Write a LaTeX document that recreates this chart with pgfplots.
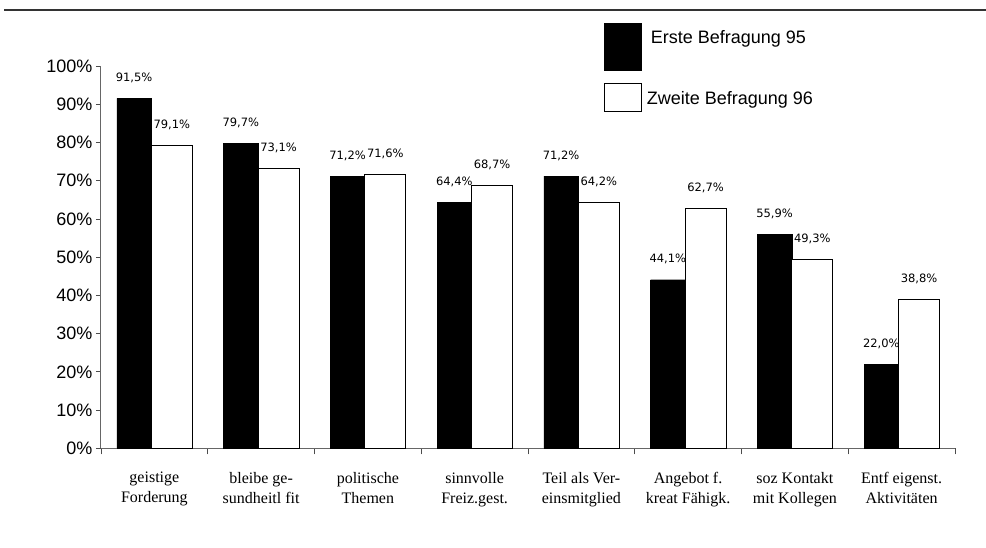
\documentclass[border=0pt]{standalone}
\usepackage{fontspec}
\usepackage{pgfplots}
\pgfplotsset{compat=1.18}
\setmainfont{Liberation Sans}
\newfontfamily\valfont{DejaVu Sans}
\newfontfamily\catfont{Liberation Serif}
% fixed line box for the two-line category names
\newcommand\ls{\rule[-5pt]{0pt}{14pt}}

\begin{document}
\begin{tikzpicture}
\useasboundingbox (0,0) rectangle (986pt,547pt);
% rule across the top
\draw[black!80, line width=1.5pt] (4pt,537pt) -- (986pt,537pt);

\begin{axis}[
  at={(101pt,98.7pt)}, anchor=south west,
  scale only axis, width=854pt, height=382.3pt,
  ybar, ymin=0, ymax=100, xmin=-0.5, xmax=7.5,
  axis lines*=left,
  axis line style={black!60, line width=1pt},
  /pgf/number format/assume math mode=true,
  ytick={0,10,...,100},
  yticklabel={\pgfmathprintnumber{\tick}\%},
  yticklabel style={font=\fontsize{18}{20}\selectfont},
  xtick={0,...,7},
  xticklabels={{\ls geistige\\\ls Forderung},{\ls bleibe ge-\\\ls sundheitl fit},{\ls politische\\\ls Themen},{\ls sinnvolle\\\ls Freiz.gest.},{\ls Teil als Ver-\\\ls einsmitglied},{\ls Angebot f.\\\ls kreat Fähigk.},{\ls soz Kontakt\\\ls mit Kollegen},{\ls Entf eigenst.\\\ls Aktivitäten}},
  xticklabel style={font=\catfont\fontsize{16}{20}\selectfont, align=center, yshift=-15.5pt},
  major x tick style={draw=none},
  minor xtick={-0.5,0.5,...,7.5},
  minor x tick style={black!70, line width=0.8pt},
  tick align=outside,
  major tick length=5pt, minor tick length=6pt,
  tick style={black!70, line width=0.8pt},
  nodes near coords={\pgfmathprintnumber[fixed,fixed zerofill,precision=1,use comma]{\pgfplotspointmeta}\%},
  every node near coord/.append style={font=\valfont\fontsize{11.5}{13}\selectfont, inner sep=0pt, yshift=15.5pt, black},
  clip=false,
]
% Erste Befragung 95
\addplot[fill=black, draw=black, bar width=34.5pt, bar shift=-20.3pt]
  coordinates {(0,91.5) (1,79.7) (2,71.2) (3,64.4) (4,71.2) (5,44.1) (6,55.9) (7,22.0)};
% Zweite Befragung 96
\addplot[fill=white, draw=black, line width=1pt, bar width=41pt, bar shift=17.5pt]
  coordinates {(0,79.1) (1,73.1) (2,71.6) (3,68.7) (4,64.2) (5,62.7) (6,49.3) (7,38.8)};
\end{axis}

% legend
\fill[black] (604pt,476.3pt) rectangle (641.7pt,523.7pt);
\draw[black, line width=1pt, fill=white] (604pt,435.3pt) rectangle (641.7pt,463pt);
\node[anchor=base west, inner sep=0pt, font=\fontsize{18}{20}\selectfont] at (650.7pt,503.7pt) {Erste Befragung 95};
\node[anchor=base west, inner sep=0pt, font=\fontsize{18}{20}\selectfont] at (646.7pt,442pt) {Zweite Befragung 96};
\end{tikzpicture}
\end{document}
